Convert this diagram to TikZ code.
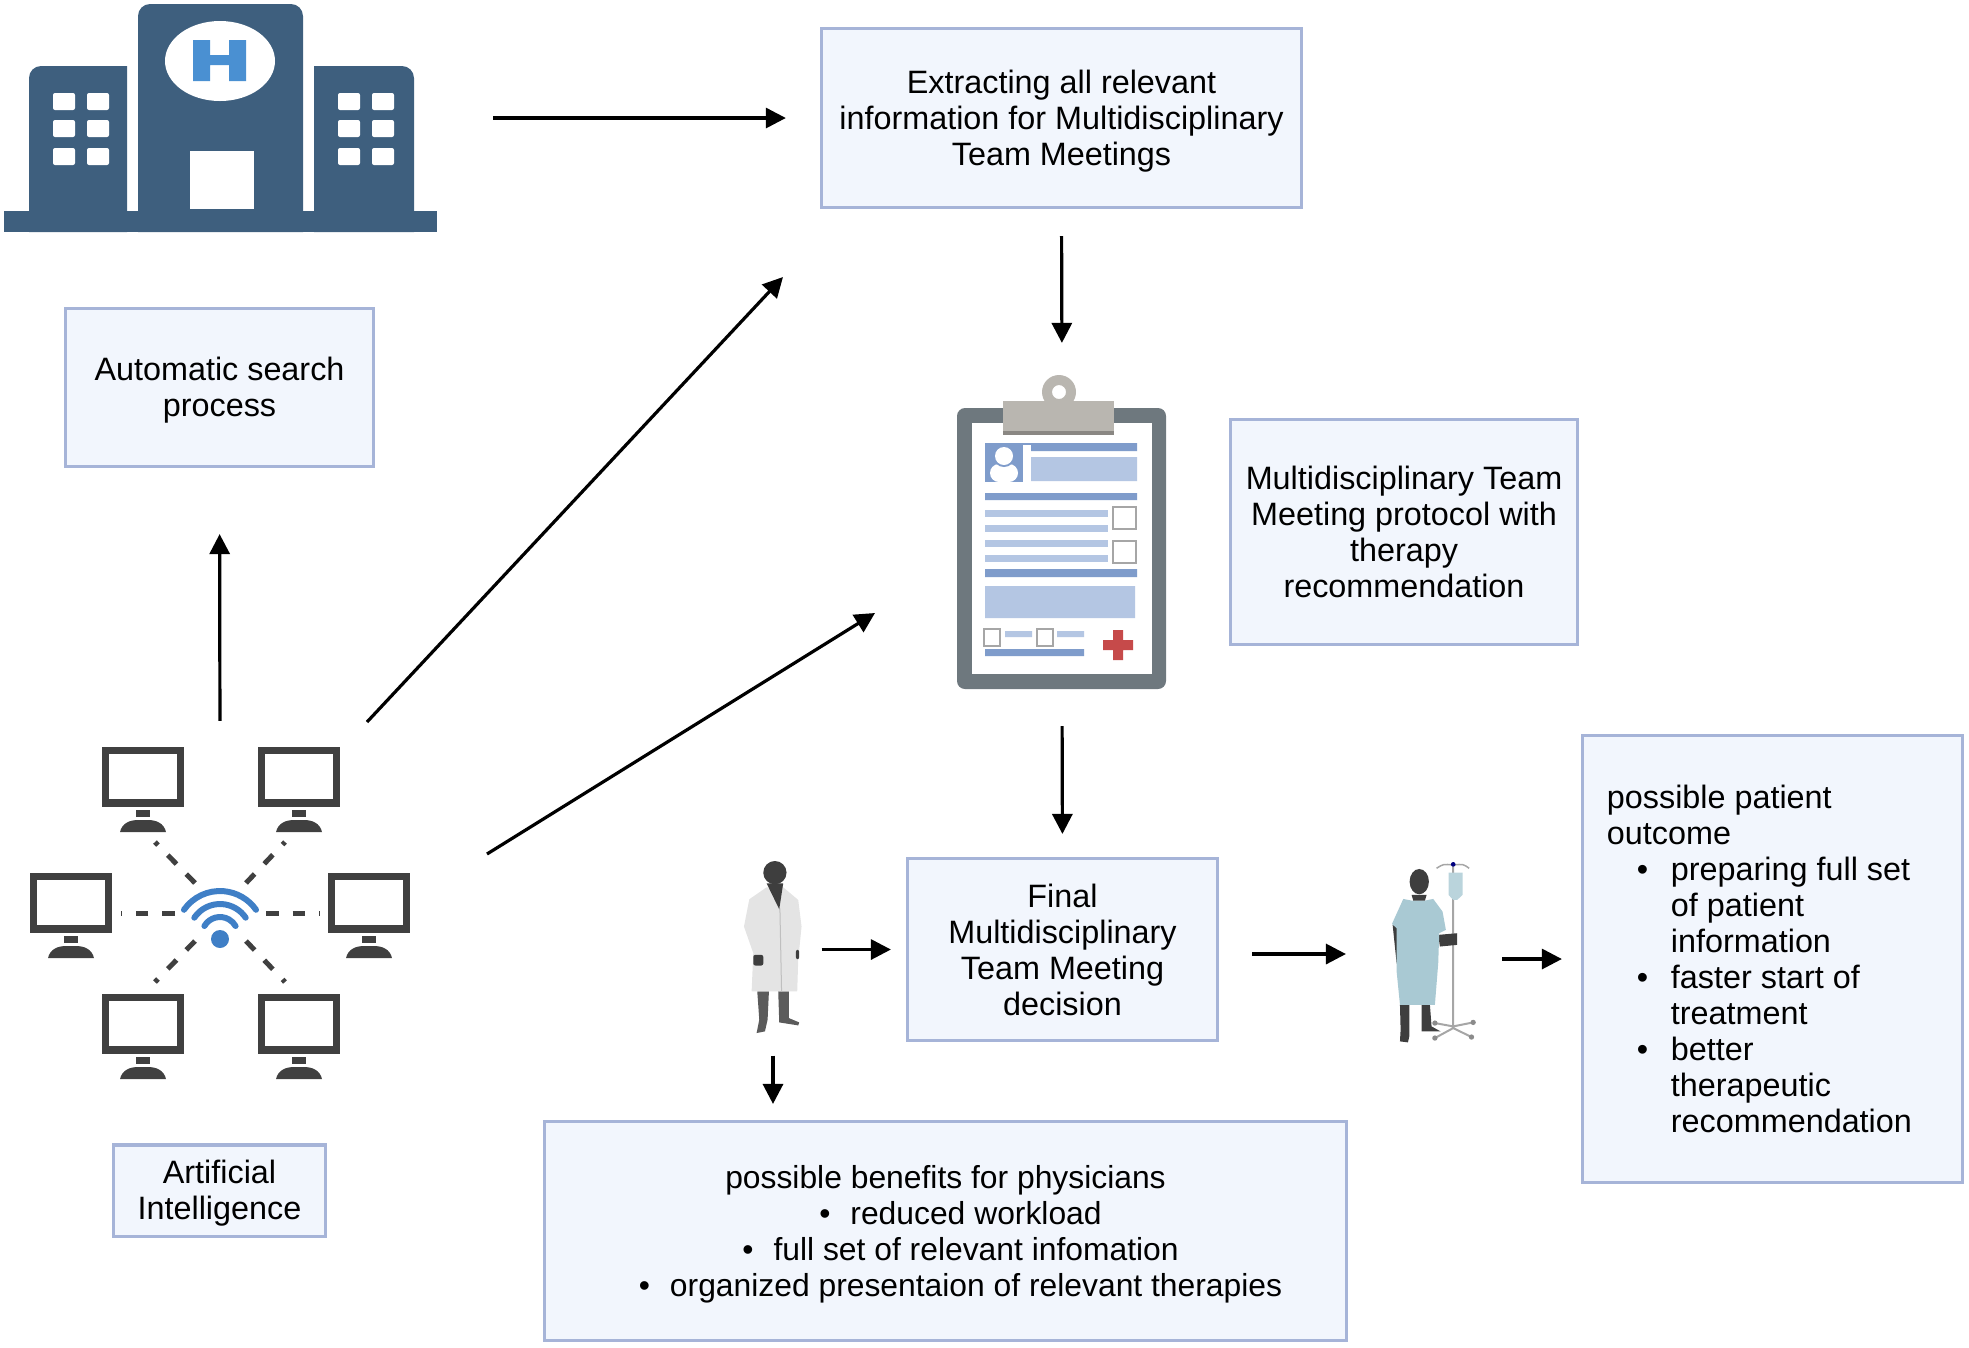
\documentclass[tikz,border=0pt]{standalone}
\usepackage{fontspec}
\setmainfont{Liberation Sans}
\usetikzlibrary{arrows.meta}
\definecolor{boxfill}{HTML}{F2F6FD}
\definecolor{boxline}{HTML}{A6B4D8}
\definecolor{hospblue}{HTML}{3E5F7E}
\definecolor{signblue}{HTML}{4A90D2}
\definecolor{boardgray}{HTML}{6E787E}
\definecolor{clipgray}{HTML}{B9B6B0}
\definecolor{clipdark}{HTML}{8A8783}
\definecolor{formdark}{HTML}{7F9CCB}
\definecolor{formlight}{HTML}{B4C6E3}
\definecolor{crossred}{HTML}{C64A4A}
\definecolor{screengray}{HTML}{404040}
\definecolor{wifiblue}{HTML}{3F7FC6}
\definecolor{skindark}{HTML}{3E3E3E}
\definecolor{coatgray}{HTML}{E4E4E4}
\definecolor{gownblue}{HTML}{A9C9D3}
\tikzset{>={Triangle[length=0.2cm,width=0.2cm]}}
\tikzset{
  infobox/.style={draw=boxline,fill=boxfill,line width=0.03cm,inner sep=0pt,outer sep=0pt,
    align=center,font=\fontsize{9.2}{10.24}\selectfont},
  iconbox/.style={inner sep=0pt,outer sep=0pt},
  flow/.style={->,line width=0.032cm}
}
\newcommand{\bulletitem}[1]{\hspace*{0.3cm}\makebox[0.34cm][l]{\textbullet}#1}
\newcommand{\bulletmore}[1]{\hspace*{0.64cm}#1}
\newcommand{\firstline}{\rule{0pt}{8.2pt}}
\begin{document}
\begin{tikzpicture}[x=0.01cm,y=-0.01cm]
\useasboundingbox (0,0) rectangle (1969,1347);

% text boxes
\node[infobox,minimum width=4.79cm,minimum height=1.78cm] (extract) at (1061.5,118)
  {\firstline Extracting all relevant\\information for Multidisciplinary\\Team Meetings};
\node[infobox,minimum width=3.07cm,minimum height=1.57cm] (search) at (219.5,387.5)
  {\firstline Automatic search\\process};
\node[infobox,minimum width=3.47cm,minimum height=2.24cm] (protocol) at (1404,532)
  {Multidisciplinary Team\\Meeting protocol with\\therapy\\recommendation};
\node[infobox,minimum width=3.09cm,minimum height=1.81cm] (final) at (1062.5,949.5)
  {Final\\Multidisciplinary\\Team Meeting\\decision};
\node[infobox,minimum width=2.11cm,minimum height=0.91cm] (intelligence) at (219.5,1190.5)
  {\firstline Artificial\\Intelligence};
\node[infobox,minimum width=8.01cm,minimum height=2.18cm,font=\fontsize{9.05}{10.24}\selectfont] (benefits) at (945.5,1231)
  {\firstline possible benefits for physicians\\
   \hspace*{0.3cm}\textbullet\hspace{0.2cm}reduced workload\\
   \hspace*{0.3cm}\textbullet\hspace{0.2cm}full set of relevant infomation\\
   \hspace*{0.3cm}\textbullet\hspace{0.2cm}organized presentaion of relevant therapies};
\node[infobox,minimum width=3.79cm,minimum height=4.46cm,align=left] (outcome) at (1772.5,959)
  {\parbox{3.31cm}{\raggedright\fontsize{9.2}{10.24}\selectfont
   possible patient\\outcome\\
   \bulletitem{preparing full set}\\\bulletmore{of patient}\\\bulletmore{information}\\
   \bulletitem{faster start of}\\\bulletmore{treatment}\\
   \bulletitem{better}\\\bulletmore{therapeutic}\\\bulletmore{recommendation}}};

% icon places
\node[iconbox,minimum width=4.34cm,minimum height=2.3cm] (hospital) at (220,118) {};
\node[iconbox,minimum width=2.07cm,minimum height=3.17cm] (clipboard) at (1062,532.5) {};
\node[iconbox,minimum width=3.81cm,minimum height=3.33cm] (network) at (220,913.5) {};
\node[iconbox,minimum width=0.61cm,minimum height=1.72cm] (doctor) at (773,949.5) {};
\node[iconbox,minimum width=0.86cm,minimum height=1.82cm] (patient) at (1434,954) {};
\coordinate (netTop) at (367,722);
\coordinate (netSide) at (487,854);
\coordinate (extractIn) at (783,277);
\coordinate (clipboardIn) at (875,613);

% hospital
\fill[hospblue] (4,211) rectangle (437,232);
\fill[hospblue] (138,232)[rounded corners=0.12cm] -- (138,4) -- (303,4)[sharp corners] -- (303,232) -- cycle;
\fill[hospblue] (29,232)[rounded corners=0.12cm] -- (29,66)[sharp corners] -- (127,66) -- (127,232) -- cycle;
\fill[hospblue] (314,232) -- (314,66)[rounded corners=0.12cm] -- (414,66)[sharp corners] -- (414,232) -- cycle;
\fill[white] (220,61) ellipse[x radius=55,y radius=40];
\fill[signblue] (193,40) rectangle (210,81) (229,40) rectangle (246,81) (205,55) rectangle (235,65);
\fill[white] (190,151) rectangle (254,209);
\foreach \wx in {53,87,338,372}
  \foreach \wy in {93,120,148}
    \fill[white,rounded corners=0.02cm] (\wx,\wy) rectangle ++(22,17);

% clipboard
\fill[boardgray,rounded corners=0.08cm] (957,408) rectangle (1166,689);
\fill[white] (972,423) rectangle (1152,674);
\fill[clipgray,even odd rule] (1059,392) circle[radius=17] (1059,392) circle[radius=7];
\fill[clipdark] (1003,425) rectangle (1114,435);
\fill[clipgray] (1003,401) rectangle (1114,431);
\fill[formdark] (985,443) rectangle (1023,482);
\fill[white,rounded corners=0.09cm] (990,482) -- (990,464) -- (1018,464) -- (1018,482) -- cycle;
\fill[formdark] (1004,456) circle[radius=11];
\fill[white] (1004,456) circle[radius=9];
\fill[formdark] (985,443) rectangle (1031,445);
\fill[formdark] (1031,443) rectangle (1137,451) (985,493) rectangle (1137,500)
  (985,569) rectangle (1137,577) (985,649) rectangle (1084,656);
\fill[formlight] (1031,457) rectangle (1137,481) (985,586) rectangle (1135,618)
  (1005,631) rectangle (1032,637) (1057,631) rectangle (1084,637);
\foreach \ly in {510,525,540,555}
  \fill[formlight] (985,\ly) rectangle (1108,\ly+7);
\draw[gray!70,line width=0.015cm] (1113,507) rectangle (1136,529) (1113,541) rectangle (1136,563)
  (984,629) rectangle (1000,646) (1037,629) rectangle (1053,646);
\fill[crossred] (1103,640) rectangle (1133,650) (1113,630) rectangle (1123,660);

% computers and wifi
\foreach \mx/\my in {102/747,258/747,30/873,328/873,102/994,258/994}{
  \begin{scope}[shift={(\mx,\my)}]
    \fill[screengray] (0,0) rectangle (82,60);
    \fill[white] (7,7) rectangle (75,52);
    \fill[screengray] (34,63) rectangle (48,70);
    \fill[screengray] (18,85) .. controls (20,76) and (28,73) .. (36,73) -- (46,73)
      .. controls (54,73) and (62,76) .. (64,85) -- cycle;
  \end{scope}
}
\foreach \ax/\ay/\bx/\by in {175/913/121/913,266/913/320/913,195/883/155/842,246/883/285/842,195/941/155/982,246/941/285/982}
  \draw[screengray,line width=0.05cm,dash pattern=on 0.125cm off 0.14cm] (\ax,\ay) -- (\bx,\by);
\fill[wifiblue] (220,939) circle[radius=9];
\draw[wifiblue,line width=0.06cm,line cap=round] (220,935) ++(-145:44) arc[start angle=-145,end angle=-35,radius=44];
\draw[wifiblue,line width=0.06cm,line cap=round] (220,935) ++(-146:31) arc[start angle=-146,end angle=-34,radius=31];
\draw[wifiblue,line width=0.06cm,line cap=round] (220,935) ++(-150:18) arc[start angle=-150,end angle=-30,radius=18];

% doctor
\begin{scope}[shift={(720,850)},x=0.00333cm,y=-0.00333cm]
  \fill[skindark!85] (112,425) -- (147,425) -- (143,510) -- (135,545) -- (110,550) -- (118,510) -- cycle;
  \fill[skindark!85] (175,425) -- (207,425) -- (207,505) -- (238,518) -- (235,527) -- (178,518) -- cycle;
  \fill[coatgray] (140,112) -- (88,148) -- (72,230) -- (100,310) -- (95,425) -- (232,425) -- (235,330) -- (245,230) -- (235,150) -- (190,112) -- cycle;
  \draw[gray!50,line width=0.01cm] (180,175) -- (185,425);
  \fill[skindark] (140,100) -- (178,178) -- (190,100) -- cycle;
  \fill[skindark] (165,68) circle[radius=35];
  \fill[skindark,rounded corners=0.02cm] (100,315) rectangle (130,347) (228,300) rectangle (238,328);
\end{scope}

% patient and drip stand
\begin{scope}[shift={(1370,850)},x=0.00333cm,y=-0.00333cm]
  \draw[gray!70,line width=0.02cm] (250,45) -- (250,535) (195,520) -- (250,530) -- (310,518)
    (195,565) -- (250,535) -- (305,562);
  \draw[gray!70,line width=0.015cm] (200,55) .. controls (220,42) .. (250,45) .. controls (280,42) .. (298,55);
  \fill[skindark!60] (195,520) circle[radius=8] (310,518) circle[radius=8] (195,565) circle[radius=8] (305,562) circle[radius=8];
  \fill[blue!50!black] (250,43) circle[radius=7];
  \fill[gownblue!80] (236,68) -- (278,68) -- (278,135) -- (262,150) -- (250,150) -- (236,135) -- cycle;
  \fill[skindark] (90,465) -- (118,465) -- (118,560) -- (114,578) -- (90,575) -- (92,540) -- cycle;
  \fill[skindark] (155,465) -- (180,465) -- (185,530) -- (212,545) -- (155,545) -- cycle;
  \fill[skindark] (68,225) -- (80,340) -- (105,370) -- (110,340) -- (95,235) -- cycle;
  \fill[skindark] (205,255) -- (262,250) -- (262,285) -- (210,290) -- cycle;
  \fill[gownblue] (100,147) -- (66,222) -- (80,235) -- (80,365) -- (90,465) -- (195,465) -- (205,340) -- (208,250) -- (228,240) -- (218,185) -- (190,147) -- (165,152) -- (125,152) -- cycle;
  \fill[skindark] (125,135) -- (170,135) -- (165,152) -- (130,152) -- cycle;
  \fill[skindark] (148,95) ellipse[x radius=29,y radius=38];
\end{scope}

% connectors
\draw[flow,shorten <=0.56cm,shorten >=0.36cm] (hospital.east) -- (extract.west);
\draw[flow,shorten <=0.29cm,shorten >=0.31cm] (extract.south) -- (clipboard.north);
\draw[flow,shorten <=0.35cm,shorten >=0.25cm] (clipboard.south) -- (final.north);
\draw[flow,shorten <=0.26cm,shorten >=0.68cm] (network.north) -- (search.south);
\draw[flow] (netTop) -- (extractIn);
\draw[flow] (netSide) -- (clipboardIn);
\draw[flow,shorten <=0.18cm,shorten >=0.17cm] (doctor.east) -- (final.west);
\draw[flow,shorten <=0.2cm,shorten >=0.18cm] (doctor.south) -- (doctor.south|-benefits.north);
\draw[flow,shorten <=0.35cm,shorten >=0.45cm] (final.east|-patient.west) -- (patient.west);
\draw[flow,shorten <=0.25cm,shorten >=0.21cm] (patient.east|-outcome.west) -- (outcome.west);
\end{tikzpicture}
\end{document}
